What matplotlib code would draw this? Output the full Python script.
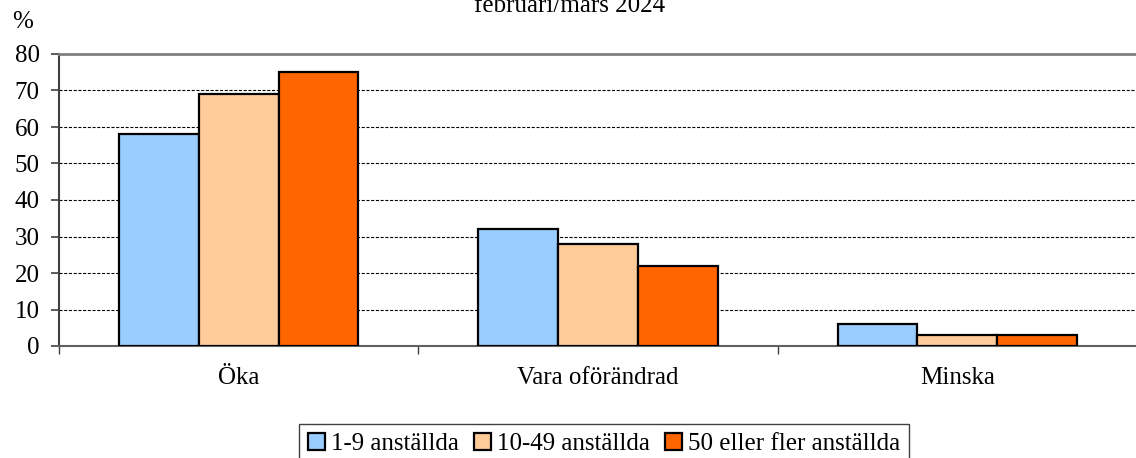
import matplotlib
matplotlib.use("Agg")
import matplotlib.pyplot as plt
from matplotlib.patches import Patch
import numpy as np

plt.rcParams['font.family'] = ['Liberation Serif', 'DejaVu Serif']
plt.rcParams['lines.scale_dashes'] = False

categories = ["Öka", "Vara oförändrad", "Minska"]
series_names = ["1-9 anställda", "10-49 anställda", "50 eller fler anställda"]
small = [58, 32, 6]
medium = [69, 28, 3]
large = [75, 22, 3]
series_values = [small, medium, large]
colors = ["#99CCFF", "#FFCC99", "#FF6600"]
yticks = [0, 10, 20, 30, 40, 50, 60, 70, 80]
title = "februari/mars 2024"

W, H = 1136, 458
fig = plt.figure(figsize=(W / 100, H / 100), dpi=100)
ax = fig.add_axes([59 / W, (H - 346) / H, (1137 - 59) / W, (346 - 54) / H])

x = np.arange(len(categories))
bw = 80 / 360
for i, (vals, c) in enumerate(zip(series_values, colors)):
    ax.bar(x + (i - 1) * bw, vals, width=bw, color=c, edgecolor="black",
           linewidth=1.6, zorder=3)

ax.set_xlim(-0.5, len(categories) - 0.5)
ax.set_ylim(0, 80)
ax.set_yticks(yticks)
ax.set_yticklabels([str(v) for v in yticks], fontsize=18)
for v in yticks[1:-1]:
    ax.axhline(v, color="black", linewidth=0.8, linestyle=(0, (2.2, 1.2)), zorder=1)

ax.set_xticks(np.arange(-0.5, len(categories)))
ax.set_xticklabels([])
ax.set_xticks(x, categories, minor=True)
ax.tick_params(axis="x", which="minor", length=0, pad=15, labelsize=18)
ax.tick_params(axis="x", which="major", length=6, width=1, color="#404040", direction="out")
ax.tick_params(axis="y", length=6, width=1.2, color="#404040", pad=8)

ax.spines["right"].set_visible(False)
ax.spines["top"].set_color("#808080")
ax.spines["top"].set_linewidth(2)
ax.spines["left"].set_color("#404040")
ax.spines["left"].set_linewidth(1.5)
ax.spines["bottom"].set_color("#606060")
ax.spines["bottom"].set_linewidth(1.5)

fig.text(23 / W, 1 - 22 / H, "%", fontsize=18, ha="center", va="center")
fig.text(570 / W, 1 - 11.7 / H, title, fontsize=18, ha="center", va="baseline")

handles = [Patch(facecolor=c, edgecolor="black", linewidth=1.6) for c in colors]
leg = fig.legend(handles, series_names, loc="upper center",
                 bbox_to_anchor=(604 / W, 1 - 424 / H), ncol=3, fontsize=18,
                 frameon=True, fancybox=False, shadow=False, framealpha=1,
                 handlelength=0.68, handleheight=0.68, handletextpad=0.25,
                 columnspacing=0.6, borderpad=0.35, borderaxespad=0)
leg.get_frame().set_edgecolor("#404040")
leg.get_frame().set_linewidth(1.0)

fig.savefig("out.png", dpi=100)
